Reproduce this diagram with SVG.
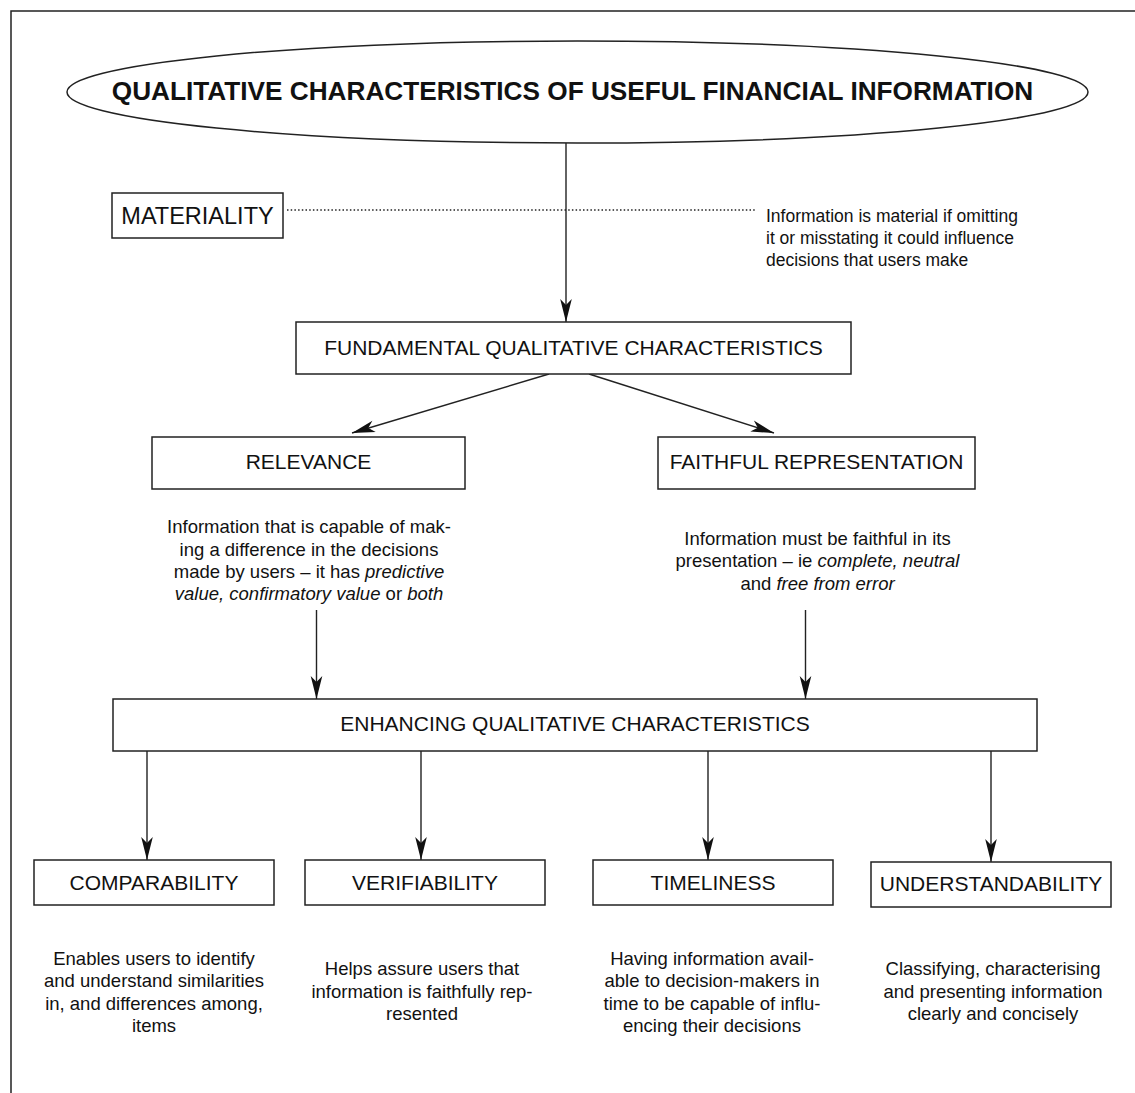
<svg xmlns="http://www.w3.org/2000/svg" width="1135" height="1093" viewBox="0 0 1135 1093">
<style>
text{font-family:"Liberation Sans",Arial,Helvetica,sans-serif;fill:#111}
.box{fill:#fff;stroke:#222;stroke-width:1.5}
.lbl{font-size:21px;text-anchor:middle}
.desc{font-size:18.5px;text-anchor:middle}
.it{font-style:italic}
.con{stroke:#222;stroke-width:1.4;fill:none}
</style>
<defs>
<marker id="ah" markerUnits="userSpaceOnUse" markerWidth="30" markerHeight="16" viewBox="-24 -8 26 16" refX="0" refY="0" orient="auto">
<path d="M0,0 L-23,-5.8 L-17,0 L-23,5.8 Z" fill="#111"/>
</marker>
</defs>
<rect width="1135" height="1093" fill="#fff"/>
<g id="frame"><path d="M11,1093 V11 H1135" fill="none" stroke="#222" stroke-width="1.5"/></g>

<g id="connectors">
<line class="con" x1="566" y1="143" x2="566" y2="322" marker-end="url(#ah)"/>
<line class="con" x1="287" y1="210" x2="755" y2="210" stroke-dasharray="1.5,2.2"/>
<line class="con" x1="549" y1="374" x2="352" y2="433" marker-end="url(#ah)"/>
<line class="con" x1="589" y1="374" x2="774" y2="433" marker-end="url(#ah)"/>
<line class="con" x1="316.5" y1="610" x2="316.5" y2="699" marker-end="url(#ah)"/>
<line class="con" x1="805.5" y1="610" x2="805.5" y2="699" marker-end="url(#ah)"/>
<line class="con" x1="147" y1="751" x2="147" y2="860" marker-end="url(#ah)"/>
<line class="con" x1="421" y1="751" x2="421" y2="860" marker-end="url(#ah)"/>
<line class="con" x1="708" y1="751" x2="708" y2="860" marker-end="url(#ah)"/>
<line class="con" x1="991" y1="751" x2="991" y2="862" marker-end="url(#ah)"/>
</g>

<g id="title">
<ellipse cx="577.5" cy="92" rx="510.5" ry="51" fill="#fff" stroke="#222" stroke-width="1.5"/>
<text x="572.5" y="99.5" text-anchor="middle" font-size="26.2" font-weight="bold">QUALITATIVE CHARACTERISTICS OF USEFUL FINANCIAL INFORMATION</text>
</g>

<g id="materiality">
<rect class="box" x="112" y="193" width="171" height="45"/>
<text x="197.5" y="224" text-anchor="middle" font-size="23.5">MATERIALITY</text>
</g>

<g id="materiality-desc">
<text font-size="17.5"><tspan x="766" y="222">Information is material if omitting</tspan><tspan x="766" y="244">it or misstating it could influence</tspan><tspan x="766" y="266">decisions that users make</tspan></text>
</g>

<g id="fundamental">
<rect class="box" x="296" y="322" width="555" height="52"/>
<text class="lbl" x="573.5" y="355">FUNDAMENTAL QUALITATIVE CHARACTERISTICS</text>
</g>

<g id="relevance">
<rect class="box" x="152" y="437" width="313" height="52"/>
<text class="lbl" x="308.5" y="469">RELEVANCE</text>
</g>

<g id="faithful">
<rect class="box" x="658" y="437" width="317" height="52"/>
<text class="lbl" x="816.5" y="469">FAITHFUL REPRESENTATION</text>
</g>

<g id="relevance-desc">
<text class="desc"><tspan x="309" y="533">Information that is capable of mak-</tspan><tspan x="309" y="555.5">ing a difference in the decisions</tspan><tspan x="309" y="578">made by users – it has <tspan class="it">predictive</tspan></tspan><tspan x="309" y="600"><tspan class="it">value, confirmatory value</tspan> or <tspan class="it">both</tspan></tspan></text>
</g>

<g id="faithful-desc">
<text class="desc"><tspan x="817.5" y="544.5">Information must be faithful in its</tspan><tspan x="817.5" y="567">presentation – ie <tspan class="it">complete, neutral</tspan></tspan><tspan x="817.5" y="589.5">and <tspan class="it">free from error</tspan></tspan></text>
</g>

<g id="enhancing">
<rect class="box" x="113" y="699" width="924" height="52"/>
<text class="lbl" x="575" y="731">ENHANCING QUALITATIVE CHARACTERISTICS</text>
</g>

<g id="comparability">
<rect class="box" x="34" y="860" width="240" height="45"/>
<text class="lbl" x="154" y="890">COMPARABILITY</text>
</g>
<g id="verifiability">
<rect class="box" x="305" y="860" width="240" height="45"/>
<text class="lbl" x="425" y="890">VERIFIABILITY</text>
</g>
<g id="timeliness">
<rect class="box" x="593" y="860" width="240" height="45"/>
<text class="lbl" x="713" y="890">TIMELINESS</text>
</g>
<g id="understandability">
<rect class="box" x="871" y="862" width="240" height="45"/>
<text class="lbl" x="991" y="891">UNDERSTANDABILITY</text>
</g>

<g id="comparability-desc">
<text class="desc"><tspan x="154" y="964.5">Enables users to identify</tspan><tspan x="154" y="987">and understand similarities</tspan><tspan x="154" y="1009.5">in, and differences among,</tspan><tspan x="154" y="1032">items</tspan></text>
</g>
<g id="verifiability-desc">
<text class="desc"><tspan x="422" y="975">Helps assure users that</tspan><tspan x="422" y="997.5">information is faithfully rep-</tspan><tspan x="422" y="1020">resented</tspan></text>
</g>
<g id="timeliness-desc">
<text class="desc"><tspan x="712" y="964.5">Having information avail-</tspan><tspan x="712" y="987">able to decision-makers in</tspan><tspan x="712" y="1009.5">time to be capable of influ-</tspan><tspan x="712" y="1032">encing their decisions</tspan></text>
</g>
<g id="understandability-desc">
<text class="desc"><tspan x="993" y="975">Classifying, characterising</tspan><tspan x="993" y="997.5">and presenting information</tspan><tspan x="993" y="1020">clearly and concisely</tspan></text>
</g>
</svg>
